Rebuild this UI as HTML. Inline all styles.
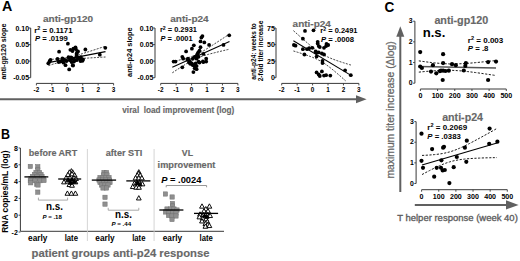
<!DOCTYPE html>
<html><head><meta charset="utf-8"><style>
html,body{margin:0;padding:0;background:#fff;width:520px;height:261px;overflow:hidden}
svg{display:block;font-family:"Liberation Sans", sans-serif}
.g{fill:#686868;stroke:#686868;stroke-width:0.15}
.m{fill:#666;stroke:#666;stroke-width:0.25}
</style></head><body>
<svg width="520" height="261" viewBox="0 0 520 261">
<rect width="520" height="261" fill="#fff"/>
<text x="2.0" y="11.2" font-size="14.2" font-weight="bold" fill="#000" text-anchor="start" textLength="10.3" lengthAdjust="spacingAndGlyphs" >A</text>
<line x1="30.7" y1="28" x2="30.7" y2="77.7" stroke="#383838" stroke-width="1" stroke-linecap="butt"/>
<line x1="28.9" y1="28" x2="30.7" y2="28" stroke="#383838" stroke-width="0.9" stroke-linecap="butt"/>
<line x1="28.9" y1="44.6" x2="30.7" y2="44.6" stroke="#383838" stroke-width="0.9" stroke-linecap="butt"/>
<line x1="28.9" y1="61.1" x2="30.7" y2="61.1" stroke="#383838" stroke-width="0.9" stroke-linecap="butt"/>
<line x1="28.9" y1="77.7" x2="30.7" y2="77.7" stroke="#383838" stroke-width="0.9" stroke-linecap="butt"/>
<line x1="36.4" y1="83.4" x2="113.6" y2="83.4" stroke="#383838" stroke-width="1" stroke-linecap="butt"/>
<line x1="36.4" y1="83.4" x2="36.4" y2="85.4" stroke="#383838" stroke-width="0.9" stroke-linecap="butt"/>
<line x1="51.839999999999996" y1="83.4" x2="51.839999999999996" y2="85.4" stroke="#383838" stroke-width="0.9" stroke-linecap="butt"/>
<line x1="67.28" y1="83.4" x2="67.28" y2="85.4" stroke="#383838" stroke-width="0.9" stroke-linecap="butt"/>
<line x1="82.72" y1="83.4" x2="82.72" y2="85.4" stroke="#383838" stroke-width="0.9" stroke-linecap="butt"/>
<line x1="98.16" y1="83.4" x2="98.16" y2="85.4" stroke="#383838" stroke-width="0.9" stroke-linecap="butt"/>
<line x1="113.6" y1="83.4" x2="113.6" y2="85.4" stroke="#383838" stroke-width="0.9" stroke-linecap="butt"/>
<text x="29.099999999999998" y="30.5" font-size="7.0" font-weight="bold" fill="#000" text-anchor="end" >0.10</text>
<text x="29.099999999999998" y="47.1" font-size="7.0" font-weight="bold" fill="#000" text-anchor="end" >0.05</text>
<text x="29.099999999999998" y="63.6" font-size="7.0" font-weight="bold" fill="#000" text-anchor="end" >0.00</text>
<text x="29.099999999999998" y="80.2" font-size="7.0" font-weight="bold" fill="#000" text-anchor="end" >-0.05</text>
<text x="36.4" y="92.2" font-size="6.4" font-weight="bold" fill="#000" text-anchor="middle" >-2</text>
<text x="51.839999999999996" y="92.2" font-size="6.4" font-weight="bold" fill="#000" text-anchor="middle" >-1</text>
<text x="67.28" y="92.2" font-size="6.4" font-weight="bold" fill="#000" text-anchor="middle" >0</text>
<text x="82.72" y="92.2" font-size="6.4" font-weight="bold" fill="#000" text-anchor="middle" >1</text>
<text x="98.16" y="92.2" font-size="6.4" font-weight="bold" fill="#000" text-anchor="middle" >2</text>
<text x="113.6" y="92.2" font-size="6.4" font-weight="bold" fill="#000" text-anchor="middle" >3</text>
<text x="42.9" y="21.7" font-size="9.6" font-weight="bold" fill="#6e6e6e" text-anchor="start" textLength="50.3" lengthAdjust="spacingAndGlyphs" class="g" >anti-gp120</text>
<text x="34.2" y="33.2" font-size="7.4" font-weight="bold" textLength="38.3" lengthAdjust="spacingAndGlyphs">r<tspan dy="-2.8" font-size="5.2">2</tspan><tspan dy="2.8"> = 0.1171</tspan></text>
<text x="34.900000000000006" y="41.400000000000006" font-size="7.4" font-weight="bold" textLength="33.0" lengthAdjust="spacingAndGlyphs"><tspan font-style="italic">P</tspan> = .0199</text>
<polyline points="48.50,59.58 50.40,59.45 52.30,59.32 54.20,59.18 56.10,59.02 58.00,58.86 59.90,58.68 61.80,58.47 63.70,58.23 65.60,57.96 67.50,57.63 69.40,57.25 71.30,56.82 73.20,56.34 75.10,55.83 77.00,55.29 78.90,54.73 80.80,54.16 82.70,53.57 84.60,52.98 86.50,52.37 88.40,51.77 90.30,51.16 92.20,50.55 94.10,49.93 96.00,49.31 97.90,48.69 99.80,48.07 101.70,47.45 103.60,46.83 105.50,46.20" fill="none" stroke="#222" stroke-width="0.85" stroke-dasharray="2,1.3"/>
<polyline points="48.50,65.62 50.40,65.01 52.30,64.42 54.20,63.82 56.10,63.24 58.00,62.67 59.90,62.12 61.80,61.60 63.70,61.10 65.60,60.64 67.50,60.24 69.40,59.88 71.30,59.58 73.20,59.32 75.10,59.10 77.00,58.91 78.90,58.74 80.80,58.58 82.70,58.43 84.60,58.29 86.50,58.16 88.40,58.03 90.30,57.91 92.20,57.79 94.10,57.67 96.00,57.55 97.90,57.44 99.80,57.33 101.70,57.22 103.60,57.11 105.50,57.00" fill="none" stroke="#222" stroke-width="0.85" stroke-dasharray="2,1.3"/>
<line x1="48.5" y1="62.6" x2="105.5" y2="51.6" stroke="#000" stroke-width="1.1" stroke-linecap="butt"/>
<circle cx="67.9" cy="43.7" r="1.9" fill="#000"/>
<circle cx="59.1" cy="51.7" r="1.9" fill="#000"/>
<circle cx="70.4" cy="49.8" r="1.9" fill="#000"/>
<circle cx="73.4" cy="48.6" r="1.9" fill="#000"/>
<circle cx="75.9" cy="49.2" r="1.9" fill="#000"/>
<circle cx="77.1" cy="52.3" r="1.9" fill="#000"/>
<circle cx="76.5" cy="54.1" r="1.9" fill="#000"/>
<circle cx="48.3" cy="63.3" r="1.9" fill="#000"/>
<circle cx="49.5" cy="61.5" r="1.9" fill="#000"/>
<circle cx="57.5" cy="59" r="1.9" fill="#000"/>
<circle cx="58.7" cy="62.1" r="1.9" fill="#000"/>
<circle cx="62.4" cy="58.4" r="1.9" fill="#000"/>
<circle cx="62.4" cy="60.9" r="1.9" fill="#000"/>
<circle cx="63.6" cy="62.7" r="1.9" fill="#000"/>
<circle cx="65.5" cy="65.2" r="1.9" fill="#000"/>
<circle cx="69.2" cy="69.4" r="1.9" fill="#000"/>
<circle cx="68.5" cy="57.2" r="1.9" fill="#000"/>
<circle cx="69.8" cy="60.2" r="1.9" fill="#000"/>
<circle cx="71.6" cy="62.1" r="1.9" fill="#000"/>
<circle cx="72.8" cy="65.2" r="1.9" fill="#000"/>
<circle cx="73.4" cy="59" r="1.9" fill="#000"/>
<circle cx="75.3" cy="60.2" r="1.9" fill="#000"/>
<circle cx="78.4" cy="58.4" r="1.9" fill="#000"/>
<circle cx="80.8" cy="57.2" r="1.9" fill="#000"/>
<circle cx="81.4" cy="59.6" r="1.9" fill="#000"/>
<circle cx="78.2" cy="57.3" r="1.9" fill="#000"/>
<circle cx="82.5" cy="60.8" r="1.9" fill="#000"/>
<circle cx="85.4" cy="49.5" r="1.9" fill="#000"/>
<circle cx="105.3" cy="47.8" r="1.9" fill="#000"/>
<circle cx="99.8" cy="54.7" r="1.9" fill="#000"/>
<circle cx="73" cy="65.6" r="1.9" fill="#000"/>
<circle cx="66.5" cy="61" r="1.9" fill="#000"/>
<circle cx="71" cy="57.5" r="1.9" fill="#000"/>
<circle cx="71" cy="59" r="1.9" fill="#000"/>
<circle cx="74" cy="61.5" r="1.9" fill="#000"/>
<circle cx="77" cy="60" r="1.9" fill="#000"/>
<circle cx="80.5" cy="61" r="1.9" fill="#000"/>
<circle cx="83" cy="59.5" r="1.9" fill="#000"/>
<circle cx="76.5" cy="56.5" r="1.9" fill="#000"/>
<circle cx="72.5" cy="51" r="1.9" fill="#000"/>
<circle cx="78" cy="51.5" r="1.9" fill="#000"/>
<circle cx="75.5" cy="47.5" r="1.9" fill="#000"/>
<circle cx="60.5" cy="61.5" r="1.9" fill="#000"/>
<circle cx="64" cy="59.5" r="1.9" fill="#000"/>
<circle cx="50.5" cy="60" r="1.9" fill="#000"/>
<line x1="155.0" y1="28" x2="155.0" y2="77.7" stroke="#383838" stroke-width="1" stroke-linecap="butt"/>
<line x1="153.2" y1="28" x2="155.0" y2="28" stroke="#383838" stroke-width="0.9" stroke-linecap="butt"/>
<line x1="153.2" y1="44.6" x2="155.0" y2="44.6" stroke="#383838" stroke-width="0.9" stroke-linecap="butt"/>
<line x1="153.2" y1="61.1" x2="155.0" y2="61.1" stroke="#383838" stroke-width="0.9" stroke-linecap="butt"/>
<line x1="153.2" y1="77.7" x2="155.0" y2="77.7" stroke="#383838" stroke-width="0.9" stroke-linecap="butt"/>
<line x1="160.7" y1="83.4" x2="237.89999999999998" y2="83.4" stroke="#383838" stroke-width="1" stroke-linecap="butt"/>
<line x1="160.7" y1="83.4" x2="160.7" y2="85.4" stroke="#383838" stroke-width="0.9" stroke-linecap="butt"/>
<line x1="176.14" y1="83.4" x2="176.14" y2="85.4" stroke="#383838" stroke-width="0.9" stroke-linecap="butt"/>
<line x1="191.57999999999998" y1="83.4" x2="191.57999999999998" y2="85.4" stroke="#383838" stroke-width="0.9" stroke-linecap="butt"/>
<line x1="207.01999999999998" y1="83.4" x2="207.01999999999998" y2="85.4" stroke="#383838" stroke-width="0.9" stroke-linecap="butt"/>
<line x1="222.45999999999998" y1="83.4" x2="222.45999999999998" y2="85.4" stroke="#383838" stroke-width="0.9" stroke-linecap="butt"/>
<line x1="237.89999999999998" y1="83.4" x2="237.89999999999998" y2="85.4" stroke="#383838" stroke-width="0.9" stroke-linecap="butt"/>
<text x="153.4" y="30.5" font-size="7.0" font-weight="bold" fill="#000" text-anchor="end" >0.10</text>
<text x="153.4" y="47.1" font-size="7.0" font-weight="bold" fill="#000" text-anchor="end" >0.05</text>
<text x="153.4" y="63.6" font-size="7.0" font-weight="bold" fill="#000" text-anchor="end" >0.00</text>
<text x="153.4" y="80.2" font-size="7.0" font-weight="bold" fill="#000" text-anchor="end" >-0.05</text>
<text x="160.7" y="92.2" font-size="6.4" font-weight="bold" fill="#000" text-anchor="middle" >-2</text>
<text x="176.14" y="92.2" font-size="6.4" font-weight="bold" fill="#000" text-anchor="middle" >-1</text>
<text x="191.57999999999998" y="92.2" font-size="6.4" font-weight="bold" fill="#000" text-anchor="middle" >0</text>
<text x="207.01999999999998" y="92.2" font-size="6.4" font-weight="bold" fill="#000" text-anchor="middle" >1</text>
<text x="222.45999999999998" y="92.2" font-size="6.4" font-weight="bold" fill="#000" text-anchor="middle" >2</text>
<text x="237.89999999999998" y="92.2" font-size="6.4" font-weight="bold" fill="#000" text-anchor="middle" >3</text>
<text x="170.2" y="21.8" font-size="9.6" font-weight="bold" fill="#6e6e6e" text-anchor="start" textLength="38.5" lengthAdjust="spacingAndGlyphs" class="g" >anti-p24</text>
<text x="159.9" y="32.4" font-size="7.4" font-weight="bold" textLength="37.0" lengthAdjust="spacingAndGlyphs">r<tspan dy="-2.8" font-size="5.2">2</tspan><tspan dy="2.8"> = 0.2931</tspan></text>
<text x="160.6" y="40.599999999999994" font-size="7.4" font-weight="bold" textLength="32.0" lengthAdjust="spacingAndGlyphs"><tspan font-style="italic">P</tspan> = .0001</text>
<polyline points="172.30,61.80 174.21,61.34 176.11,60.87 178.02,60.40 179.93,59.92 181.83,59.43 183.74,58.93 185.65,58.41 187.55,57.87 189.46,57.29 191.37,56.67 193.27,55.98 195.18,55.21 197.09,54.35 198.99,53.39 200.90,52.35 202.81,51.26 204.71,50.11 206.62,48.94 208.53,47.74 210.43,46.53 212.34,45.30 214.25,44.07 216.15,42.83 218.06,41.58 219.97,40.33 221.87,39.08 223.78,37.82 225.69,36.56 227.59,35.30 229.50,34.04" fill="none" stroke="#222" stroke-width="0.85" stroke-dasharray="2,1.3"/>
<polyline points="172.30,72.80 174.21,71.55 176.11,70.30 178.02,69.06 179.93,67.83 181.83,66.60 183.74,65.39 185.65,64.20 187.55,63.03 189.46,61.89 191.37,60.80 193.27,59.77 195.18,58.83 197.09,57.98 198.99,57.22 200.90,56.55 202.81,55.93 204.71,55.36 206.62,54.82 208.53,54.31 210.43,53.81 212.34,53.32 214.25,52.84 216.15,52.36 218.06,51.90 219.97,51.43 221.87,50.97 223.78,50.52 225.69,50.06 227.59,49.61 229.50,49.16" fill="none" stroke="#222" stroke-width="0.85" stroke-dasharray="2,1.3"/>
<line x1="172.3" y1="67.3" x2="229.5" y2="41.6" stroke="#000" stroke-width="1.1" stroke-linecap="butt"/>
<circle cx="173.6" cy="61.6" r="1.9" fill="#000"/>
<circle cx="175.5" cy="61.6" r="1.9" fill="#000"/>
<circle cx="182.3" cy="56.8" r="1.9" fill="#000"/>
<circle cx="183.2" cy="58.7" r="1.9" fill="#000"/>
<circle cx="182.3" cy="67.3" r="1.9" fill="#000"/>
<circle cx="186.1" cy="51.4" r="1.9" fill="#000"/>
<circle cx="193.8" cy="45.3" r="1.9" fill="#000"/>
<circle cx="191.9" cy="48.7" r="1.9" fill="#000"/>
<circle cx="200.5" cy="41.4" r="1.9" fill="#000"/>
<circle cx="201.4" cy="37.6" r="1.9" fill="#000"/>
<circle cx="202.4" cy="36.1" r="1.9" fill="#000"/>
<circle cx="204.3" cy="42.4" r="1.9" fill="#000"/>
<circle cx="209.1" cy="44.9" r="1.9" fill="#000"/>
<circle cx="223.5" cy="44.9" r="1.9" fill="#000"/>
<circle cx="229.2" cy="35.3" r="1.9" fill="#000"/>
<circle cx="200.5" cy="47.2" r="1.9" fill="#000"/>
<circle cx="199.5" cy="50.6" r="1.9" fill="#000"/>
<circle cx="197.6" cy="53.9" r="1.9" fill="#000"/>
<circle cx="203.4" cy="53.9" r="1.9" fill="#000"/>
<circle cx="188" cy="58.7" r="1.9" fill="#000"/>
<circle cx="189.9" cy="61.6" r="1.9" fill="#000"/>
<circle cx="192.8" cy="58.7" r="1.9" fill="#000"/>
<circle cx="194.7" cy="56.8" r="1.9" fill="#000"/>
<circle cx="196.6" cy="58.7" r="1.9" fill="#000"/>
<circle cx="198.6" cy="56.8" r="1.9" fill="#000"/>
<circle cx="191.9" cy="63.5" r="1.9" fill="#000"/>
<circle cx="193.8" cy="65.4" r="1.9" fill="#000"/>
<circle cx="195.7" cy="63.5" r="1.9" fill="#000"/>
<circle cx="198.6" cy="61.6" r="1.9" fill="#000"/>
<circle cx="194.7" cy="68.3" r="1.9" fill="#000"/>
<circle cx="196.6" cy="69.2" r="1.9" fill="#000"/>
<circle cx="193.4" cy="72.1" r="1.9" fill="#000"/>
<circle cx="206.2" cy="58.7" r="1.9" fill="#000"/>
<circle cx="206.2" cy="61.6" r="1.9" fill="#000"/>
<circle cx="203.4" cy="62.1" r="1.9" fill="#000"/>
<circle cx="189" cy="62.5" r="1.9" fill="#000"/>
<circle cx="190.3" cy="63.8" r="1.9" fill="#000"/>
<circle cx="192.6" cy="64.9" r="1.9" fill="#000"/>
<circle cx="187.4" cy="59.8" r="1.9" fill="#000"/>
<circle cx="196.6" cy="66.1" r="1.9" fill="#000"/>
<circle cx="195.5" cy="56.9" r="1.9" fill="#000"/>
<circle cx="197.2" cy="54.6" r="1.9" fill="#000"/>
<circle cx="198.3" cy="52.3" r="1.9" fill="#000"/>
<circle cx="202.9" cy="61.5" r="1.9" fill="#000"/>
<circle cx="199.5" cy="62.6" r="1.9" fill="#000"/>
<line x1="276.0" y1="28" x2="276.0" y2="77.7" stroke="#383838" stroke-width="1" stroke-linecap="butt"/>
<line x1="274.2" y1="28" x2="276.0" y2="28" stroke="#383838" stroke-width="0.9" stroke-linecap="butt"/>
<line x1="274.2" y1="44.6" x2="276.0" y2="44.6" stroke="#383838" stroke-width="0.9" stroke-linecap="butt"/>
<line x1="274.2" y1="61.1" x2="276.0" y2="61.1" stroke="#383838" stroke-width="0.9" stroke-linecap="butt"/>
<line x1="274.2" y1="77.7" x2="276.0" y2="77.7" stroke="#383838" stroke-width="0.9" stroke-linecap="butt"/>
<line x1="281.7" y1="83.4" x2="358.9" y2="83.4" stroke="#383838" stroke-width="1" stroke-linecap="butt"/>
<line x1="281.7" y1="83.4" x2="281.7" y2="85.4" stroke="#383838" stroke-width="0.9" stroke-linecap="butt"/>
<line x1="297.14" y1="83.4" x2="297.14" y2="85.4" stroke="#383838" stroke-width="0.9" stroke-linecap="butt"/>
<line x1="312.58" y1="83.4" x2="312.58" y2="85.4" stroke="#383838" stroke-width="0.9" stroke-linecap="butt"/>
<line x1="328.02" y1="83.4" x2="328.02" y2="85.4" stroke="#383838" stroke-width="0.9" stroke-linecap="butt"/>
<line x1="343.46" y1="83.4" x2="343.46" y2="85.4" stroke="#383838" stroke-width="0.9" stroke-linecap="butt"/>
<line x1="358.9" y1="83.4" x2="358.9" y2="85.4" stroke="#383838" stroke-width="0.9" stroke-linecap="butt"/>
<text x="274.8" y="30.5" font-size="7.0" font-weight="bold" fill="#000" text-anchor="end" >75</text>
<text x="274.8" y="47.1" font-size="7.0" font-weight="bold" fill="#000" text-anchor="end" >50</text>
<text x="274.8" y="63.6" font-size="7.0" font-weight="bold" fill="#000" text-anchor="end" >25</text>
<text x="274.8" y="80.2" font-size="7.0" font-weight="bold" fill="#000" text-anchor="end" >0</text>
<text x="281.7" y="92.2" font-size="6.4" font-weight="bold" fill="#000" text-anchor="middle" >-2</text>
<text x="297.14" y="92.2" font-size="6.4" font-weight="bold" fill="#000" text-anchor="middle" >-1</text>
<text x="312.58" y="92.2" font-size="6.4" font-weight="bold" fill="#000" text-anchor="middle" >0</text>
<text x="328.02" y="92.2" font-size="6.4" font-weight="bold" fill="#000" text-anchor="middle" >1</text>
<text x="343.46" y="92.2" font-size="6.4" font-weight="bold" fill="#000" text-anchor="middle" >2</text>
<text x="358.9" y="92.2" font-size="6.4" font-weight="bold" fill="#000" text-anchor="middle" >3</text>
<text x="292.6" y="27.3" font-size="9.6" font-weight="bold" fill="#6e6e6e" text-anchor="start" textLength="38.3" lengthAdjust="spacingAndGlyphs" class="g" >anti-p24</text>
<text x="320.3" y="33.4" font-size="7.4" font-weight="bold" textLength="37.2" lengthAdjust="spacingAndGlyphs">r<tspan dy="-2.8" font-size="5.2">2</tspan><tspan dy="2.8"> = 0.2491</tspan></text>
<text x="321.0" y="41.599999999999994" font-size="7.4" font-weight="bold" textLength="33.0" lengthAdjust="spacingAndGlyphs"><tspan font-style="italic">P</tspan> = .0008</text>
<polyline points="293.40,30.63 295.33,32.36 297.27,34.09 299.20,35.82 301.13,37.53 303.07,39.23 305.00,40.91 306.93,42.57 308.87,44.21 310.80,45.82 312.73,47.38 314.67,48.90 316.60,50.35 318.53,51.72 320.47,53.01 322.40,54.20 324.33,55.29 326.27,56.28 328.20,57.20 330.13,58.04 332.07,58.82 334.00,59.56 335.93,60.26 337.87,60.93 339.80,61.58 341.73,62.21 343.67,62.82 345.60,63.43 347.53,64.02 349.47,64.61 351.40,65.18" fill="none" stroke="#222" stroke-width="0.85" stroke-dasharray="2,1.3"/>
<polyline points="293.40,50.97 295.33,51.56 297.27,52.15 299.20,52.74 301.13,53.35 303.07,53.97 305.00,54.61 306.93,55.27 308.87,55.95 310.80,56.66 312.73,57.42 314.67,58.22 316.60,59.09 318.53,60.04 320.47,61.07 322.40,62.20 324.33,63.43 326.27,64.76 328.20,66.16 330.13,67.64 332.07,69.18 334.00,70.76 335.93,72.38 337.87,74.03 339.80,75.70 341.73,77.39 343.67,79.10 345.60,80.81" fill="none" stroke="#222" stroke-width="0.85" stroke-dasharray="2,1.3"/>
<line x1="293.4" y1="40.8" x2="351.4" y2="75.6" stroke="#000" stroke-width="1.1" stroke-linecap="butt"/>
<circle cx="305" cy="30.9" r="1.9" fill="#000"/>
<circle cx="313.5" cy="30.3" r="1.9" fill="#000"/>
<circle cx="302.9" cy="38.7" r="1.9" fill="#000"/>
<circle cx="293.9" cy="45" r="1.9" fill="#000"/>
<circle cx="295.5" cy="45.7" r="1.9" fill="#000"/>
<circle cx="302.9" cy="49.2" r="1.9" fill="#000"/>
<circle cx="307.1" cy="49.2" r="1.9" fill="#000"/>
<circle cx="309.2" cy="48.2" r="1.9" fill="#000"/>
<circle cx="312.4" cy="47.8" r="1.9" fill="#000"/>
<circle cx="317.7" cy="43.6" r="1.9" fill="#000"/>
<circle cx="318.7" cy="46.1" r="1.9" fill="#000"/>
<circle cx="319.8" cy="47.1" r="1.9" fill="#000"/>
<circle cx="326.1" cy="46.1" r="1.9" fill="#000"/>
<circle cx="328.2" cy="45" r="1.9" fill="#000"/>
<circle cx="324" cy="47.8" r="1.9" fill="#000"/>
<circle cx="304.4" cy="54.5" r="1.9" fill="#000"/>
<circle cx="315.6" cy="51.4" r="1.9" fill="#000"/>
<circle cx="316.6" cy="52.8" r="1.9" fill="#000"/>
<circle cx="318.7" cy="52.4" r="1.9" fill="#000"/>
<circle cx="321.9" cy="53.5" r="1.9" fill="#000"/>
<circle cx="324" cy="54.5" r="1.9" fill="#000"/>
<circle cx="316.6" cy="56.6" r="1.9" fill="#000"/>
<circle cx="322.5" cy="63" r="1.9" fill="#000"/>
<circle cx="322.5" cy="60.8" r="1.9" fill="#000"/>
<circle cx="316.6" cy="72.4" r="1.9" fill="#000"/>
<circle cx="318.7" cy="74.5" r="1.9" fill="#000"/>
<circle cx="319.8" cy="76" r="1.9" fill="#000"/>
<circle cx="321.9" cy="71.4" r="1.9" fill="#000"/>
<circle cx="324" cy="75.6" r="1.9" fill="#000"/>
<circle cx="326.1" cy="75.2" r="1.9" fill="#000"/>
<circle cx="330.3" cy="75.6" r="1.9" fill="#000"/>
<circle cx="345.1" cy="70.3" r="1.9" fill="#000"/>
<circle cx="350.8" cy="75.2" r="1.9" fill="#000"/>
<circle cx="317.7" cy="41.8" r="1.9" fill="#000"/>
<circle cx="326.5" cy="44" r="1.9" fill="#000"/>
<text x="5.9" y="51.6" font-size="7.4" font-weight="bold" fill="#000" text-anchor="middle" textLength="56.0" lengthAdjust="spacingAndGlyphs" transform="rotate(-90 5.9 51.6)" >anti-gp120 slope</text>
<text x="131.7" y="52.2" font-size="7.4" font-weight="bold" fill="#000" text-anchor="middle" textLength="49.5" lengthAdjust="spacingAndGlyphs" transform="rotate(-90 131.7 52.2)" >anti-p24 slope</text>
<text x="256.4" y="51.4" font-size="7.3" font-weight="bold" fill="#000" text-anchor="middle" textLength="56.5" lengthAdjust="spacingAndGlyphs" transform="rotate(-90 256.4 51.4)" >anti-p24: weeks to</text>
<text x="263.2" y="51.0" font-size="7.3" font-weight="bold" fill="#000" text-anchor="middle" textLength="60.7" lengthAdjust="spacingAndGlyphs" transform="rotate(-90 263.2 51.0)" >2-fold titer increase</text>
<line x1="0" y1="99.3" x2="357" y2="99.3" stroke="#606060" stroke-width="2.0" stroke-linecap="butt"/>
<path d="M356.0,95.3 L366.6,99.3 L356.0,103.3 Z" fill="#606060"/>
<text x="122.3" y="113.2" font-size="8.9" font-weight="bold" fill="#6e6e6e" class="g" textLength="112" lengthAdjust="spacingAndGlyphs" xml:space="preserve">viral  load improvement (log)</text>
<text x="0.9" y="138.9" font-size="14.5" font-weight="bold" fill="#000" text-anchor="start" textLength="9.0" lengthAdjust="spacingAndGlyphs" >B</text>
<line x1="20.4" y1="148" x2="20.4" y2="231.3" stroke="#383838" stroke-width="1" stroke-linecap="butt"/>
<line x1="18.6" y1="148.0" x2="20.4" y2="148.0" stroke="#383838" stroke-width="0.9" stroke-linecap="butt"/>
<text x="17.8" y="150.7" font-size="7.0" font-weight="bold" fill="#000" text-anchor="end" >8</text>
<line x1="18.6" y1="164.79999999999998" x2="20.4" y2="164.79999999999998" stroke="#383838" stroke-width="0.9" stroke-linecap="butt"/>
<text x="17.8" y="167.49999999999997" font-size="7.0" font-weight="bold" fill="#000" text-anchor="end" >6</text>
<line x1="18.6" y1="181.6" x2="20.4" y2="181.6" stroke="#383838" stroke-width="0.9" stroke-linecap="butt"/>
<text x="17.8" y="184.29999999999998" font-size="7.0" font-weight="bold" fill="#000" text-anchor="end" >4</text>
<line x1="18.6" y1="198.39999999999998" x2="20.4" y2="198.39999999999998" stroke="#383838" stroke-width="0.9" stroke-linecap="butt"/>
<text x="17.8" y="201.09999999999997" font-size="7.0" font-weight="bold" fill="#000" text-anchor="end" >2</text>
<line x1="18.6" y1="215.2" x2="20.4" y2="215.2" stroke="#383838" stroke-width="0.9" stroke-linecap="butt"/>
<text x="17.8" y="217.89999999999998" font-size="7.0" font-weight="bold" fill="#000" text-anchor="end" >0</text>
<line x1="18.6" y1="232.0" x2="20.4" y2="232.0" stroke="#383838" stroke-width="0.9" stroke-linecap="butt"/>
<text x="17.8" y="234.7" font-size="7.0" font-weight="bold" fill="#000" text-anchor="end" >-2</text>
<line x1="20.4" y1="231.3" x2="224" y2="231.3" stroke="#383838" stroke-width="1" stroke-linecap="butt"/>
<line x1="87.4" y1="149" x2="87.4" y2="241" stroke="#d0d0d0" stroke-width="0.9" stroke-linecap="butt"/>
<line x1="154.1" y1="149" x2="154.1" y2="241" stroke="#d0d0d0" stroke-width="0.9" stroke-linecap="butt"/>
<text x="8.0" y="191.6" font-size="8.6" font-weight="bold" fill="#000" text-anchor="middle" textLength="82.3" lengthAdjust="spacingAndGlyphs" transform="rotate(-90 8.0 191.6)" >RNA copies/mL (log)</text>
<text x="53.0" y="155.6" font-size="8.9" font-weight="bold" fill="#6e6e6e" text-anchor="middle" textLength="48.3" lengthAdjust="spacingAndGlyphs" class="g" >before ART</text>
<text x="124.0" y="155.6" font-size="8.9" font-weight="bold" fill="#6e6e6e" text-anchor="middle" textLength="36.5" lengthAdjust="spacingAndGlyphs" class="g" >after STI</text>
<text x="187.4" y="156.4" font-size="8.9" font-weight="bold" fill="#6e6e6e" text-anchor="middle" textLength="11.2" lengthAdjust="spacingAndGlyphs" class="g" >VL</text>
<text x="186.5" y="167.8" font-size="8.9" font-weight="bold" fill="#6e6e6e" text-anchor="middle" textLength="57.8" lengthAdjust="spacingAndGlyphs" class="g" >improvement</text>
<text x="37.7" y="241.0" font-size="8.2" font-weight="bold" fill="#000" text-anchor="middle" textLength="19.3" lengthAdjust="spacingAndGlyphs" >early</text>
<text x="71.3" y="241.0" font-size="8.2" font-weight="bold" fill="#000" text-anchor="middle" textLength="13.3" lengthAdjust="spacingAndGlyphs" >late</text>
<text x="105.0" y="241.0" font-size="8.2" font-weight="bold" fill="#000" text-anchor="middle" textLength="19.3" lengthAdjust="spacingAndGlyphs" >early</text>
<text x="138.8" y="241.0" font-size="8.2" font-weight="bold" fill="#000" text-anchor="middle" textLength="13.3" lengthAdjust="spacingAndGlyphs" >late</text>
<text x="172.4" y="241.0" font-size="8.2" font-weight="bold" fill="#000" text-anchor="middle" textLength="19.3" lengthAdjust="spacingAndGlyphs" >early</text>
<text x="206.2" y="241.0" font-size="8.2" font-weight="bold" fill="#000" text-anchor="middle" textLength="13.3" lengthAdjust="spacingAndGlyphs" >late</text>
<text x="120.5" y="257.3" font-size="11.0" font-weight="bold" fill="#6e6e6e" text-anchor="middle" textLength="178.0" lengthAdjust="spacingAndGlyphs" class="g" >patient groups anti-p24 response</text>
<rect x="28.15" y="164.25" width="4.3" height="4.3" fill="#8f8f8f" stroke="#707070" stroke-width="0.5"/>
<rect x="35.65" y="164.55" width="4.3" height="4.3" fill="#8f8f8f" stroke="#707070" stroke-width="0.5"/>
<rect x="35.65" y="167.85" width="4.3" height="4.3" fill="#8f8f8f" stroke="#707070" stroke-width="0.5"/>
<rect x="33.85" y="170.35" width="4.3" height="4.3" fill="#8f8f8f" stroke="#707070" stroke-width="0.5"/>
<rect x="37.35" y="170.35" width="4.3" height="4.3" fill="#8f8f8f" stroke="#707070" stroke-width="0.5"/>
<rect x="32.35" y="172.35" width="4.3" height="4.3" fill="#8f8f8f" stroke="#707070" stroke-width="0.5"/>
<rect x="38.85" y="172.35" width="4.3" height="4.3" fill="#8f8f8f" stroke="#707070" stroke-width="0.5"/>
<rect x="30.35" y="174.35" width="4.3" height="4.3" fill="#8f8f8f" stroke="#707070" stroke-width="0.5"/>
<rect x="34.85" y="174.35" width="4.3" height="4.3" fill="#8f8f8f" stroke="#707070" stroke-width="0.5"/>
<rect x="39.85" y="174.35" width="4.3" height="4.3" fill="#8f8f8f" stroke="#707070" stroke-width="0.5"/>
<rect x="28.85" y="176.35" width="4.3" height="4.3" fill="#8f8f8f" stroke="#707070" stroke-width="0.5"/>
<rect x="35.35" y="176.35" width="4.3" height="4.3" fill="#8f8f8f" stroke="#707070" stroke-width="0.5"/>
<rect x="41.35" y="176.35" width="4.3" height="4.3" fill="#8f8f8f" stroke="#707070" stroke-width="0.5"/>
<rect x="28.15" y="178.55" width="4.3" height="4.3" fill="#8f8f8f" stroke="#707070" stroke-width="0.5"/>
<rect x="32.85" y="178.55" width="4.3" height="4.3" fill="#8f8f8f" stroke="#707070" stroke-width="0.5"/>
<rect x="37.85" y="178.55" width="4.3" height="4.3" fill="#8f8f8f" stroke="#707070" stroke-width="0.5"/>
<rect x="41.85" y="178.35" width="4.3" height="4.3" fill="#8f8f8f" stroke="#707070" stroke-width="0.5"/>
<rect x="28.55" y="180.65" width="4.3" height="4.3" fill="#8f8f8f" stroke="#707070" stroke-width="0.5"/>
<rect x="34.55" y="181.95" width="4.3" height="4.3" fill="#8f8f8f" stroke="#707070" stroke-width="0.5"/>
<rect x="35.85" y="182.85" width="4.3" height="4.3" fill="#8f8f8f" stroke="#707070" stroke-width="0.5"/>
<rect x="35.65" y="189.95" width="4.3" height="4.3" fill="#8f8f8f" stroke="#707070" stroke-width="0.5"/>
<line x1="24.4" y1="176.9" x2="48.3" y2="176.9" stroke="#000" stroke-width="1.3" stroke-linecap="butt"/>
<path d="M71.40,168.64 L73.80,172.96 L69.00,172.96 Z" fill="#fff" stroke="#000" stroke-width="0.95"/>
<path d="M69.40,169.84 L71.80,174.16 L67.00,174.16 Z" fill="#fff" stroke="#000" stroke-width="0.95"/>
<path d="M72.70,169.84 L75.10,174.16 L70.30,174.16 Z" fill="#fff" stroke="#000" stroke-width="0.95"/>
<path d="M68.00,172.24 L70.40,176.56 L65.60,176.56 Z" fill="#fff" stroke="#000" stroke-width="0.95"/>
<path d="M72.00,171.54 L74.40,175.86 L69.60,175.86 Z" fill="#fff" stroke="#000" stroke-width="0.95"/>
<path d="M74.70,172.84 L77.10,177.16 L72.30,177.16 Z" fill="#fff" stroke="#000" stroke-width="0.95"/>
<path d="M66.00,175.54 L68.40,179.86 L63.60,179.86 Z" fill="#fff" stroke="#000" stroke-width="0.95"/>
<path d="M70.00,175.54 L72.40,179.86 L67.60,179.86 Z" fill="#fff" stroke="#000" stroke-width="0.95"/>
<path d="M74.00,175.54 L76.40,179.86 L71.60,179.86 Z" fill="#fff" stroke="#000" stroke-width="0.95"/>
<path d="M76.00,176.24 L78.40,180.56 L73.60,180.56 Z" fill="#fff" stroke="#000" stroke-width="0.95"/>
<path d="M64.00,179.54 L66.40,183.86 L61.60,183.86 Z" fill="#fff" stroke="#000" stroke-width="0.95"/>
<path d="M67.40,178.84 L69.80,183.16 L65.00,183.16 Z" fill="#fff" stroke="#000" stroke-width="0.95"/>
<path d="M71.40,178.24 L73.80,182.56 L69.00,182.56 Z" fill="#fff" stroke="#000" stroke-width="0.95"/>
<path d="M75.40,179.54 L77.80,183.86 L73.00,183.86 Z" fill="#fff" stroke="#000" stroke-width="0.95"/>
<path d="M69.40,182.24 L71.80,186.56 L67.00,186.56 Z" fill="#fff" stroke="#000" stroke-width="0.95"/>
<path d="M72.00,182.94 L74.40,187.26 L69.60,187.26 Z" fill="#fff" stroke="#000" stroke-width="0.95"/>
<path d="M67.40,190.94 L69.80,195.26 L65.00,195.26 Z" fill="#fff" stroke="#000" stroke-width="0.95"/>
<path d="M71.40,190.94 L73.80,195.26 L69.00,195.26 Z" fill="#fff" stroke="#000" stroke-width="0.95"/>
<path d="M75.40,190.94 L77.80,195.26 L73.00,195.26 Z" fill="#fff" stroke="#000" stroke-width="0.95"/>
<path d="M68.50,178.20 L70.50,181.80 L66.50,181.80 Z" fill="#000" stroke="#000" stroke-width="0.95"/>
<path d="M72.00,177.70 L74.00,181.30 L70.00,181.30 Z" fill="#000" stroke="#000" stroke-width="0.95"/>
<path d="M74.50,179.70 L76.50,183.30 L72.50,183.30 Z" fill="#000" stroke="#000" stroke-width="0.95"/>
<path d="M70.50,180.70 L72.50,184.30 L68.50,184.30 Z" fill="#000" stroke="#000" stroke-width="0.95"/>
<line x1="58.2" y1="179.0" x2="81.2" y2="179.0" stroke="#000" stroke-width="1.3" stroke-linecap="butt"/>
<rect x="101.85" y="170.35" width="4.3" height="4.3" fill="#8f8f8f" stroke="#707070" stroke-width="0.5"/>
<rect x="104.35" y="170.35" width="4.3" height="4.3" fill="#8f8f8f" stroke="#707070" stroke-width="0.5"/>
<rect x="101.35" y="172.85" width="4.3" height="4.3" fill="#8f8f8f" stroke="#707070" stroke-width="0.5"/>
<rect x="104.85" y="172.85" width="4.3" height="4.3" fill="#8f8f8f" stroke="#707070" stroke-width="0.5"/>
<rect x="97.85" y="175.35" width="4.3" height="4.3" fill="#8f8f8f" stroke="#707070" stroke-width="0.5"/>
<rect x="100.85" y="175.35" width="4.3" height="4.3" fill="#8f8f8f" stroke="#707070" stroke-width="0.5"/>
<rect x="103.85" y="175.35" width="4.3" height="4.3" fill="#8f8f8f" stroke="#707070" stroke-width="0.5"/>
<rect x="106.85" y="175.35" width="4.3" height="4.3" fill="#8f8f8f" stroke="#707070" stroke-width="0.5"/>
<rect x="96.85" y="177.85" width="4.3" height="4.3" fill="#8f8f8f" stroke="#707070" stroke-width="0.5"/>
<rect x="100.35" y="177.85" width="4.3" height="4.3" fill="#8f8f8f" stroke="#707070" stroke-width="0.5"/>
<rect x="103.85" y="177.85" width="4.3" height="4.3" fill="#8f8f8f" stroke="#707070" stroke-width="0.5"/>
<rect x="107.35" y="177.85" width="4.3" height="4.3" fill="#8f8f8f" stroke="#707070" stroke-width="0.5"/>
<rect x="97.85" y="180.35" width="4.3" height="4.3" fill="#8f8f8f" stroke="#707070" stroke-width="0.5"/>
<rect x="101.35" y="180.35" width="4.3" height="4.3" fill="#8f8f8f" stroke="#707070" stroke-width="0.5"/>
<rect x="104.85" y="180.35" width="4.3" height="4.3" fill="#8f8f8f" stroke="#707070" stroke-width="0.5"/>
<rect x="107.85" y="180.35" width="4.3" height="4.3" fill="#8f8f8f" stroke="#707070" stroke-width="0.5"/>
<rect x="99.35" y="182.85" width="4.3" height="4.3" fill="#8f8f8f" stroke="#707070" stroke-width="0.5"/>
<rect x="102.85" y="182.85" width="4.3" height="4.3" fill="#8f8f8f" stroke="#707070" stroke-width="0.5"/>
<rect x="105.85" y="182.85" width="4.3" height="4.3" fill="#8f8f8f" stroke="#707070" stroke-width="0.5"/>
<rect x="100.85" y="185.85" width="4.3" height="4.3" fill="#8f8f8f" stroke="#707070" stroke-width="0.5"/>
<rect x="104.35" y="185.85" width="4.3" height="4.3" fill="#8f8f8f" stroke="#707070" stroke-width="0.5"/>
<rect x="102.85" y="195.15" width="4.3" height="4.3" fill="#8f8f8f" stroke="#707070" stroke-width="0.5"/>
<rect x="102.85" y="201.95" width="4.3" height="4.3" fill="#8f8f8f" stroke="#707070" stroke-width="0.5"/>
<line x1="91.8" y1="180.1" x2="116.1" y2="180.1" stroke="#000" stroke-width="1.3" stroke-linecap="butt"/>
<path d="M138.80,169.64 L141.20,173.96 L136.40,173.96 Z" fill="#fff" stroke="#000" stroke-width="0.95"/>
<path d="M138.80,171.04 L141.20,175.36 L136.40,175.36 Z" fill="#fff" stroke="#000" stroke-width="0.95"/>
<path d="M137.27,172.84 L139.67,177.16 L134.87,177.16 Z" fill="#fff" stroke="#000" stroke-width="0.95"/>
<path d="M140.16,172.84 L142.56,177.16 L137.76,177.16 Z" fill="#fff" stroke="#000" stroke-width="0.95"/>
<path d="M135.57,175.54 L137.97,179.86 L133.17,179.86 Z" fill="#fff" stroke="#000" stroke-width="0.95"/>
<path d="M138.80,175.54 L141.20,179.86 L136.40,179.86 Z" fill="#fff" stroke="#000" stroke-width="0.95"/>
<path d="M141.86,175.54 L144.26,179.86 L139.46,179.86 Z" fill="#fff" stroke="#000" stroke-width="0.95"/>
<path d="M134.47,180.84 L136.87,185.16 L132.07,185.16 Z" fill="#fff" stroke="#000" stroke-width="0.95"/>
<path d="M136.76,180.24 L139.16,184.56 L134.36,184.56 Z" fill="#fff" stroke="#000" stroke-width="0.95"/>
<path d="M139.56,180.24 L141.96,184.56 L137.16,184.56 Z" fill="#fff" stroke="#000" stroke-width="0.95"/>
<path d="M142.45,181.54 L144.85,185.86 L140.05,185.86 Z" fill="#fff" stroke="#000" stroke-width="0.95"/>
<path d="M132.76,184.24 L135.16,188.56 L130.36,188.56 Z" fill="#fff" stroke="#000" stroke-width="0.95"/>
<path d="M136.16,184.94 L138.56,189.26 L133.76,189.26 Z" fill="#fff" stroke="#000" stroke-width="0.95"/>
<path d="M138.97,184.94 L141.37,189.26 L136.57,189.26 Z" fill="#fff" stroke="#000" stroke-width="0.95"/>
<path d="M138.80,195.64 L141.20,199.96 L136.40,199.96 Z" fill="#fff" stroke="#000" stroke-width="0.95"/>
<path d="M137.50,180.70 L139.50,184.30 L135.50,184.30 Z" fill="#000" stroke="#000" stroke-width="0.95"/>
<path d="M140.00,182.20 L142.00,185.80 L138.00,185.80 Z" fill="#000" stroke="#000" stroke-width="0.95"/>
<line x1="126.3" y1="180.9" x2="150.4" y2="180.9" stroke="#000" stroke-width="1.3" stroke-linecap="butt"/>
<rect x="163.25" y="191.85" width="4.3" height="4.3" fill="#8f8f8f" stroke="#707070" stroke-width="0.5"/>
<rect x="169.95" y="194.85" width="4.3" height="4.3" fill="#8f8f8f" stroke="#707070" stroke-width="0.5"/>
<rect x="170.35" y="201.35" width="4.3" height="4.3" fill="#8f8f8f" stroke="#707070" stroke-width="0.5"/>
<rect x="170.35" y="203.85" width="4.3" height="4.3" fill="#8f8f8f" stroke="#707070" stroke-width="0.5"/>
<rect x="164.85" y="206.85" width="4.3" height="4.3" fill="#8f8f8f" stroke="#707070" stroke-width="0.5"/>
<rect x="168.35" y="206.85" width="4.3" height="4.3" fill="#8f8f8f" stroke="#707070" stroke-width="0.5"/>
<rect x="171.85" y="206.85" width="4.3" height="4.3" fill="#8f8f8f" stroke="#707070" stroke-width="0.5"/>
<rect x="174.85" y="207.85" width="4.3" height="4.3" fill="#8f8f8f" stroke="#707070" stroke-width="0.5"/>
<rect x="163.35" y="209.85" width="4.3" height="4.3" fill="#8f8f8f" stroke="#707070" stroke-width="0.5"/>
<rect x="166.85" y="210.35" width="4.3" height="4.3" fill="#8f8f8f" stroke="#707070" stroke-width="0.5"/>
<rect x="170.35" y="210.35" width="4.3" height="4.3" fill="#8f8f8f" stroke="#707070" stroke-width="0.5"/>
<rect x="173.85" y="210.85" width="4.3" height="4.3" fill="#8f8f8f" stroke="#707070" stroke-width="0.5"/>
<rect x="166.35" y="213.35" width="4.3" height="4.3" fill="#8f8f8f" stroke="#707070" stroke-width="0.5"/>
<rect x="169.85" y="213.85" width="4.3" height="4.3" fill="#8f8f8f" stroke="#707070" stroke-width="0.5"/>
<rect x="173.85" y="213.85" width="4.3" height="4.3" fill="#8f8f8f" stroke="#707070" stroke-width="0.5"/>
<rect x="169.85" y="217.35" width="4.3" height="4.3" fill="#8f8f8f" stroke="#707070" stroke-width="0.5"/>
<line x1="159.3" y1="210.0" x2="183.4" y2="210.0" stroke="#000" stroke-width="1.3" stroke-linecap="butt"/>
<path d="M202.00,203.84 L204.40,208.16 L199.60,208.16 Z" fill="#fff" stroke="#000" stroke-width="0.95"/>
<path d="M209.40,203.84 L211.80,208.16 L207.00,208.16 Z" fill="#fff" stroke="#000" stroke-width="0.95"/>
<path d="M205.80,206.54 L208.20,210.86 L203.40,210.86 Z" fill="#fff" stroke="#000" stroke-width="0.95"/>
<path d="M204.00,208.54 L206.40,212.86 L201.60,212.86 Z" fill="#fff" stroke="#000" stroke-width="0.95"/>
<path d="M208.00,208.54 L210.40,212.86 L205.60,212.86 Z" fill="#fff" stroke="#000" stroke-width="0.95"/>
<path d="M200.00,211.84 L202.40,216.16 L197.60,216.16 Z" fill="#fff" stroke="#000" stroke-width="0.95"/>
<path d="M203.40,212.54 L205.80,216.86 L201.00,216.86 Z" fill="#fff" stroke="#000" stroke-width="0.95"/>
<path d="M207.40,212.54 L209.80,216.86 L205.00,216.86 Z" fill="#fff" stroke="#000" stroke-width="0.95"/>
<path d="M210.10,213.24 L212.50,217.56 L207.70,217.56 Z" fill="#fff" stroke="#000" stroke-width="0.95"/>
<path d="M199.40,214.54 L201.80,218.86 L197.00,218.86 Z" fill="#fff" stroke="#000" stroke-width="0.95"/>
<path d="M202.70,215.84 L205.10,220.16 L200.30,220.16 Z" fill="#fff" stroke="#000" stroke-width="0.95"/>
<path d="M206.00,216.54 L208.40,220.86 L203.60,220.86 Z" fill="#fff" stroke="#000" stroke-width="0.95"/>
<path d="M202.00,218.64 L204.40,222.96 L199.60,222.96 Z" fill="#fff" stroke="#000" stroke-width="0.95"/>
<path d="M207.40,219.24 L209.80,223.56 L205.00,223.56 Z" fill="#fff" stroke="#000" stroke-width="0.95"/>
<path d="M205.40,221.24 L207.80,225.56 L203.00,225.56 Z" fill="#fff" stroke="#000" stroke-width="0.95"/>
<path d="M208.00,221.94 L210.40,226.26 L205.60,226.26 Z" fill="#fff" stroke="#000" stroke-width="0.95"/>
<path d="M205.40,223.94 L207.80,228.26 L203.00,228.26 Z" fill="#fff" stroke="#000" stroke-width="0.95"/>
<path d="M209.40,223.24 L211.80,227.56 L207.00,227.56 Z" fill="#fff" stroke="#000" stroke-width="0.95"/>
<path d="M204.50,213.70 L206.50,217.30 L202.50,217.30 Z" fill="#000" stroke="#000" stroke-width="0.95"/>
<path d="M207.00,214.70 L209.00,218.30 L205.00,218.30 Z" fill="#000" stroke="#000" stroke-width="0.95"/>
<line x1="194" y1="213.4" x2="218.1" y2="213.4" stroke="#000" stroke-width="1.3" stroke-linecap="butt"/>
<polyline points="38.40,197.60 38.40,200.10 67.60,200.10 67.60,197.60" fill="none" stroke="#a0a0a0" stroke-width="0.9"/>
<polyline points="108.20,207.80 108.20,210.20 138.80,210.20 138.80,207.80" fill="none" stroke="#a0a0a0" stroke-width="0.9"/>
<polyline points="166.20,187.30 166.20,185.50 206.60,185.50 206.60,187.30" fill="none" stroke="#8a8a8a" stroke-width="0.9"/>
<text x="54.4" y="209.6" font-size="11.8" font-weight="bold" fill="#000" text-anchor="middle" textLength="17.0" lengthAdjust="spacingAndGlyphs" >n.s.</text>
<text x="123.6" y="218.4" font-size="11.8" font-weight="bold" fill="#000" text-anchor="middle" textLength="17.0" lengthAdjust="spacingAndGlyphs" >n.s.</text>
<text x="42.4" y="219.2" font-size="5.9" font-weight="bold" textLength="19.5" lengthAdjust="spacingAndGlyphs"><tspan font-style="italic">P</tspan> = .18</text>
<text x="111.4" y="226.4" font-size="5.9" font-weight="bold" textLength="19.8" lengthAdjust="spacingAndGlyphs"><tspan font-style="italic">P</tspan> = .44</text>
<text x="161.2" y="182.5" font-size="9.0" font-weight="bold" textLength="40.2" lengthAdjust="spacingAndGlyphs"><tspan font-style="italic">P</tspan> = .0024</text>
<text x="384.6" y="11.8" font-size="14.4" font-weight="bold" fill="#000" text-anchor="start" textLength="9.8" lengthAdjust="spacingAndGlyphs" >C</text>
<line x1="400.3" y1="35" x2="400.3" y2="192" stroke="#606060" stroke-width="2.0" stroke-linecap="butt"/>
<path d="M396.3,36.8 L400.3,26.2 L404.3,36.8 Z" fill="#606060"/>
<text x="393.8" y="109.9" font-size="10.5" font-weight="normal" fill="#666" text-anchor="middle" textLength="137.3" lengthAdjust="spacingAndGlyphs" transform="rotate(-90 393.8 109.9)" class="m">maximum titer increase (Δlog)</text>
<line x1="414.8" y1="204.9" x2="507.5" y2="204.9" stroke="#606060" stroke-width="2.0" stroke-linecap="butt"/>
<path d="M506,200.3 L518.6,204.9 L506,209.5 Z" fill="#606060"/>
<text x="397.2" y="221.3" font-size="9.5" font-weight="normal" fill="#5e5e5e" text-anchor="start" textLength="120.6" lengthAdjust="spacingAndGlyphs" stroke="#5e5e5e" stroke-width="0.35">T helper response (week 40)</text>
<line x1="414.9" y1="21.2" x2="414.9" y2="83.2" stroke="#383838" stroke-width="1" stroke-linecap="butt"/>
<line x1="413.09999999999997" y1="83.2" x2="414.9" y2="83.2" stroke="#383838" stroke-width="0.9" stroke-linecap="butt"/>
<text x="412.59999999999997" y="85.2" font-size="6.9" font-weight="bold" fill="#000" text-anchor="end" >0</text>
<line x1="413.09999999999997" y1="62.53333333333333" x2="414.9" y2="62.53333333333333" stroke="#383838" stroke-width="0.9" stroke-linecap="butt"/>
<text x="412.59999999999997" y="64.53333333333333" font-size="6.9" font-weight="bold" fill="#000" text-anchor="end" >1</text>
<line x1="413.09999999999997" y1="41.86666666666667" x2="414.9" y2="41.86666666666667" stroke="#383838" stroke-width="0.9" stroke-linecap="butt"/>
<text x="412.59999999999997" y="43.86666666666667" font-size="6.9" font-weight="bold" fill="#000" text-anchor="end" >2</text>
<line x1="413.09999999999997" y1="21.200000000000003" x2="414.9" y2="21.200000000000003" stroke="#383838" stroke-width="0.9" stroke-linecap="butt"/>
<text x="412.59999999999997" y="23.200000000000003" font-size="6.9" font-weight="bold" fill="#000" text-anchor="end" >3</text>
<line x1="420.4" y1="89.0" x2="506.3" y2="89.0" stroke="#383838" stroke-width="1" stroke-linecap="butt"/>
<line x1="420.4" y1="89.0" x2="420.4" y2="91.0" stroke="#383838" stroke-width="0.9" stroke-linecap="butt"/>
<text x="420.4" y="97.9" font-size="7.1" font-weight="bold" fill="#000" text-anchor="middle" >0</text>
<line x1="437.58" y1="89.0" x2="437.58" y2="91.0" stroke="#383838" stroke-width="0.9" stroke-linecap="butt"/>
<text x="437.58" y="97.9" font-size="7.1" font-weight="bold" fill="#000" text-anchor="middle" >100</text>
<line x1="454.76" y1="89.0" x2="454.76" y2="91.0" stroke="#383838" stroke-width="0.9" stroke-linecap="butt"/>
<text x="454.76" y="97.9" font-size="7.1" font-weight="bold" fill="#000" text-anchor="middle" >200</text>
<line x1="471.94" y1="89.0" x2="471.94" y2="91.0" stroke="#383838" stroke-width="0.9" stroke-linecap="butt"/>
<text x="471.94" y="97.9" font-size="7.1" font-weight="bold" fill="#000" text-anchor="middle" >300</text>
<line x1="489.12" y1="89.0" x2="489.12" y2="91.0" stroke="#383838" stroke-width="0.9" stroke-linecap="butt"/>
<text x="489.12" y="97.9" font-size="7.1" font-weight="bold" fill="#000" text-anchor="middle" >400</text>
<line x1="506.3" y1="89.0" x2="506.3" y2="91.0" stroke="#383838" stroke-width="0.9" stroke-linecap="butt"/>
<text x="506.3" y="97.9" font-size="7.1" font-weight="bold" fill="#000" text-anchor="middle" >500</text>
<text x="434.4" y="24.3" font-size="10.2" font-weight="bold" fill="#6e6e6e" text-anchor="start" textLength="53.8" lengthAdjust="spacingAndGlyphs" class="g" >anti-gp120</text>
<text x="467.8" y="42.6" font-size="7.6" font-weight="bold" textLength="35.5" lengthAdjust="spacingAndGlyphs">r<tspan dy="-2.8" font-size="5.3">2</tspan><tspan dy="2.8"> = 0.003</tspan></text>
<text x="467.8" y="50.6" font-size="7.6" font-weight="bold" textLength="20.6" lengthAdjust="spacingAndGlyphs"><tspan font-style="italic">P</tspan> = .8</text>
<polyline points="418.80,60.87 421.37,61.23 423.95,61.58 426.52,61.92 429.09,62.24 431.67,62.55 434.24,62.84 436.81,63.10 439.39,63.33 441.96,63.54 444.53,63.70 447.11,63.82 449.68,63.90 452.25,63.93 454.83,63.92 457.40,63.87 459.97,63.77 462.55,63.65 465.12,63.49 467.69,63.31 470.27,63.11 472.84,62.89 475.41,62.66 477.99,62.41 480.56,62.15 483.13,61.89 485.71,61.61 488.28,61.33 490.85,61.05 493.43,60.76 496.00,60.46" fill="none" stroke="#1a1a1a" stroke-width="1.0" stroke-dasharray="2.2,1.5"/>
<polyline points="418.80,72.13 421.37,71.87 423.95,71.62 426.52,71.38 429.09,71.16 431.67,70.95 434.24,70.76 436.81,70.60 439.39,70.47 441.96,70.36 444.53,70.30 447.11,70.28 449.68,70.30 452.25,70.37 454.83,70.48 457.40,70.63 459.97,70.83 462.55,71.05 465.12,71.31 467.69,71.59 470.27,71.89 472.84,72.21 475.41,72.54 477.99,72.89 480.56,73.25 483.13,73.61 485.71,73.99 488.28,74.37 490.85,74.75 493.43,75.14 496.00,75.54" fill="none" stroke="#1a1a1a" stroke-width="1.0" stroke-dasharray="2.2,1.5"/>
<line x1="418.8" y1="66.5" x2="496" y2="68" stroke="#555" stroke-width="1.3" stroke-linecap="butt"/>
<circle cx="420.2" cy="52.1" r="2.1" fill="#000"/>
<circle cx="443.1" cy="54.2" r="2.1" fill="#000"/>
<circle cx="420.2" cy="66.5" r="2.1" fill="#000"/>
<circle cx="421.9" cy="68" r="2.1" fill="#000"/>
<circle cx="432.9" cy="65.2" r="2.1" fill="#000"/>
<circle cx="431" cy="71.6" r="2.1" fill="#000"/>
<circle cx="436.3" cy="73.3" r="2.1" fill="#000"/>
<circle cx="439.9" cy="71.2" r="2.1" fill="#000"/>
<circle cx="443.1" cy="63.1" r="2.1" fill="#000"/>
<circle cx="443.1" cy="70.7" r="2.1" fill="#000"/>
<circle cx="442.7" cy="80" r="2.1" fill="#000"/>
<circle cx="448.8" cy="70.7" r="2.1" fill="#000"/>
<circle cx="452" cy="64.2" r="2.1" fill="#000"/>
<circle cx="455.8" cy="65.2" r="2.1" fill="#000"/>
<circle cx="463.8" cy="70.5" r="2.1" fill="#000"/>
<circle cx="465.3" cy="65.9" r="2.1" fill="#000"/>
<circle cx="465.9" cy="63.1" r="2.1" fill="#000"/>
<circle cx="488.1" cy="62.1" r="2.1" fill="#000"/>
<circle cx="496" cy="61.6" r="2.1" fill="#000"/>
<circle cx="488.1" cy="80" r="2.1" fill="#000"/>
<circle cx="441" cy="70.5" r="2.1" fill="#000"/>
<circle cx="445.5" cy="71" r="2.1" fill="#000"/>
<text x="434.0" y="36.7" font-size="13.2" font-weight="bold" fill="#000" text-anchor="middle" textLength="22.6" lengthAdjust="spacingAndGlyphs" >n.s.</text>
<line x1="416.1" y1="121.6" x2="416.1" y2="183.5" stroke="#383838" stroke-width="1" stroke-linecap="butt"/>
<line x1="414.3" y1="183.5" x2="416.1" y2="183.5" stroke="#383838" stroke-width="0.9" stroke-linecap="butt"/>
<text x="413.8" y="185.5" font-size="6.9" font-weight="bold" fill="#000" text-anchor="end" >0</text>
<line x1="414.3" y1="162.86666666666667" x2="416.1" y2="162.86666666666667" stroke="#383838" stroke-width="0.9" stroke-linecap="butt"/>
<text x="413.8" y="164.86666666666667" font-size="6.9" font-weight="bold" fill="#000" text-anchor="end" >1</text>
<line x1="414.3" y1="142.23333333333332" x2="416.1" y2="142.23333333333332" stroke="#383838" stroke-width="0.9" stroke-linecap="butt"/>
<text x="413.8" y="144.23333333333332" font-size="6.9" font-weight="bold" fill="#000" text-anchor="end" >2</text>
<line x1="414.3" y1="121.6" x2="416.1" y2="121.6" stroke="#383838" stroke-width="0.9" stroke-linecap="butt"/>
<text x="413.8" y="123.6" font-size="6.9" font-weight="bold" fill="#000" text-anchor="end" >3</text>
<line x1="421.6" y1="189.7" x2="507.3" y2="189.7" stroke="#383838" stroke-width="1" stroke-linecap="butt"/>
<line x1="421.6" y1="189.7" x2="421.6" y2="191.7" stroke="#383838" stroke-width="0.9" stroke-linecap="butt"/>
<text x="421.6" y="198.6" font-size="7.1" font-weight="bold" fill="#000" text-anchor="middle" >0</text>
<line x1="438.74" y1="189.7" x2="438.74" y2="191.7" stroke="#383838" stroke-width="0.9" stroke-linecap="butt"/>
<text x="438.74" y="198.6" font-size="7.1" font-weight="bold" fill="#000" text-anchor="middle" >100</text>
<line x1="455.88" y1="189.7" x2="455.88" y2="191.7" stroke="#383838" stroke-width="0.9" stroke-linecap="butt"/>
<text x="455.88" y="198.6" font-size="7.1" font-weight="bold" fill="#000" text-anchor="middle" >200</text>
<line x1="473.02000000000004" y1="189.7" x2="473.02000000000004" y2="191.7" stroke="#383838" stroke-width="0.9" stroke-linecap="butt"/>
<text x="473.02000000000004" y="198.6" font-size="7.1" font-weight="bold" fill="#000" text-anchor="middle" >300</text>
<line x1="490.16" y1="189.7" x2="490.16" y2="191.7" stroke="#383838" stroke-width="0.9" stroke-linecap="butt"/>
<text x="490.16" y="198.6" font-size="7.1" font-weight="bold" fill="#000" text-anchor="middle" >400</text>
<line x1="507.3" y1="189.7" x2="507.3" y2="191.7" stroke="#383838" stroke-width="0.9" stroke-linecap="butt"/>
<text x="507.3" y="198.6" font-size="7.1" font-weight="bold" fill="#000" text-anchor="middle" >500</text>
<text x="442.2" y="121.4" font-size="10.2" font-weight="bold" fill="#6e6e6e" text-anchor="start" textLength="40.8" lengthAdjust="spacingAndGlyphs" class="g" >anti-p24</text>
<text x="427.3" y="130.0" font-size="7.6" font-weight="bold" textLength="39.8" lengthAdjust="spacingAndGlyphs">r<tspan dy="-2.8" font-size="5.3">2</tspan><tspan dy="2.8"> = 0.2069</tspan></text>
<text x="427.3" y="139.0" font-size="7.6" font-weight="bold" textLength="33.5" lengthAdjust="spacingAndGlyphs"><tspan font-style="italic">P</tspan> = .0383</text>
<polyline points="422.00,155.43 424.50,155.31 427.00,155.17 429.50,155.01 432.00,154.82 434.50,154.59 437.00,154.33 439.50,154.00 442.00,153.62 444.50,153.15 447.00,152.59 449.50,151.93 452.00,151.17 454.50,150.30 457.00,149.33 459.50,148.28 462.00,147.16 464.50,145.99 467.00,144.76 469.50,143.50 472.00,142.20 474.50,140.88 477.00,139.54 479.50,138.18 482.00,136.82 484.50,135.43 487.00,134.04 489.50,132.65 492.00,131.24 494.50,129.83 497.00,128.41" fill="none" stroke="#1a1a1a" stroke-width="1.0" stroke-dasharray="2.2,1.5"/>
<polyline points="422.00,174.57 424.50,173.23 427.00,171.90 429.50,170.59 432.00,169.32 434.50,168.07 437.00,166.87 439.50,165.73 442.00,164.65 444.50,163.65 447.00,162.74 449.50,161.94 452.00,161.23 454.50,160.64 457.00,160.13 459.50,159.72 462.00,159.37 464.50,159.08 467.00,158.84 469.50,158.64 472.00,158.47 474.50,158.32 477.00,158.19 479.50,158.08 482.00,157.98 484.50,157.90 487.00,157.82 489.50,157.75 492.00,157.69 494.50,157.64 497.00,157.59" fill="none" stroke="#1a1a1a" stroke-width="1.0" stroke-dasharray="2.2,1.5"/>
<line x1="422" y1="165" x2="497" y2="143" stroke="#000" stroke-width="1.1" stroke-linecap="butt"/>
<circle cx="421.5" cy="133.7" r="2.1" fill="#000"/>
<circle cx="432.1" cy="149.1" r="2.1" fill="#000"/>
<circle cx="443.1" cy="147.7" r="2.1" fill="#000"/>
<circle cx="444" cy="146.8" r="2.1" fill="#000"/>
<circle cx="464.9" cy="147.7" r="2.1" fill="#000"/>
<circle cx="466.8" cy="140.7" r="2.1" fill="#000"/>
<circle cx="489.6" cy="128.6" r="2.1" fill="#000"/>
<circle cx="489.2" cy="143.8" r="2.1" fill="#000"/>
<circle cx="497.4" cy="141.7" r="2.1" fill="#000"/>
<circle cx="421.5" cy="160.8" r="2.1" fill="#000"/>
<circle cx="441.4" cy="160.3" r="2.1" fill="#000"/>
<circle cx="456.8" cy="157" r="2.1" fill="#000"/>
<circle cx="466.3" cy="161.8" r="2.1" fill="#000"/>
<circle cx="423" cy="167.8" r="2.1" fill="#000"/>
<circle cx="436.7" cy="167.8" r="2.1" fill="#000"/>
<circle cx="441" cy="167.8" r="2.1" fill="#000"/>
<circle cx="442.7" cy="170.4" r="2.1" fill="#000"/>
<circle cx="444.8" cy="170" r="2.1" fill="#000"/>
<circle cx="453.7" cy="167.2" r="2.1" fill="#000"/>
<circle cx="434.2" cy="176.7" r="2.1" fill="#000"/>
<circle cx="449.4" cy="183.1" r="2.1" fill="#000"/>
</svg></body></html>
